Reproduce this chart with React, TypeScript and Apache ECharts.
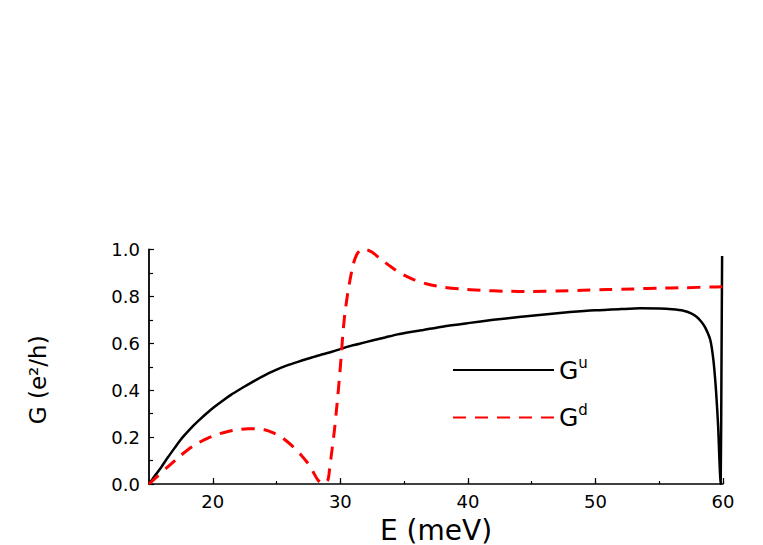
import React, { useEffect, useRef } from "react";
import * as echarts from "echarts";

// Spin-up conductance G^u (black solid)
const energyUp = [
  15.0, 15.5, 16.0, 16.5, 17.0, 17.5, 18.0, 18.5, 19.1, 19.6, 20.14, 20.8, 21.45, 22.1,
  22.75, 23.4, 24.06, 24.7, 25.37, 26.0, 26.67, 27.3, 27.98, 28.6, 29.28, 30.0, 30.6, 31.5,
  32.5, 33.5, 34.5, 35.5, 36.5, 38.0, 40.0, 42.0, 44.0, 46.0, 48.0, 50.0, 52.0, 53.5,
  55.0, 56.0, 56.9, 57.5, 57.9, 58.3, 58.6, 59.0, 59.25, 59.45, 59.62, 59.72, 59.78, 59.82,
  59.88, 59.93,
];
const condUp = [
  0.0, 0.038, 0.075, 0.115, 0.153, 0.19, 0.221, 0.25, 0.281, 0.305, 0.329, 0.356, 0.381, 0.403,
  0.424, 0.444, 0.463, 0.48, 0.496, 0.509, 0.521, 0.532, 0.543, 0.553, 0.563, 0.575, 0.586, 0.598,
  0.612, 0.625, 0.638, 0.648, 0.657, 0.671, 0.686, 0.7, 0.712, 0.723, 0.733, 0.741, 0.746, 0.749,
  0.748, 0.745, 0.739, 0.728, 0.714, 0.692, 0.668, 0.615, 0.527, 0.4, 0.245, 0.1, 0.03, 0.0,
  0.5, 0.972,
];

// Spin-down conductance G^d (red dashed)
const energyDown = [
  15.0, 15.7, 16.49, 17.3, 18.05, 18.8, 19.62, 20.4, 21.19, 22.0, 22.75, 23.4, 24.06, 24.7,
  25.37, 25.9, 26.41, 26.95, 27.45, 27.85, 28.24, 28.63, 29.02, 29.15, 29.28, 29.41, 29.54, 29.67,
  29.8, 29.94, 30.07, 30.2, 30.36, 30.62, 31.0, 31.3, 31.6, 32.0, 32.5, 33.1, 34.0, 34.7,
  35.7, 36.8, 38.0, 39.4, 41.0, 43.0, 45.0, 47.0, 49.0, 51.0, 53.0, 55.0, 57.0, 59.0, 60.0,
];
const condDown = [
  0.0, 0.035, 0.074, 0.113, 0.146, 0.173, 0.196, 0.212, 0.224, 0.232, 0.236, 0.235, 0.231, 0.219,
  0.2, 0.178, 0.153, 0.122, 0.089, 0.053, 0.017, 0.0, 0.017, 0.06, 0.117, 0.172, 0.231, 0.3,
  0.374, 0.46, 0.546, 0.64, 0.728, 0.827, 0.935, 0.98, 0.998, 1.0, 0.988, 0.962, 0.925, 0.899,
  0.873, 0.853, 0.84, 0.832, 0.826, 0.822, 0.821, 0.823, 0.826, 0.829, 0.832, 0.835, 0.837, 0.84, 0.841,
];

const xMajorTicks = [20, 30, 40, 50, 60];
const seriesNames = ["Gu", "Gd"];
const seriesSup: Record<string, string> = { Gu: "u", Gd: "d" };

export default function App() {
  const ref = useRef<HTMLDivElement>(null);
  useEffect(() => {
    document.body.style.margin = "0";
    if (!ref.current) return;
    const chart = echarts.init(ref.current, undefined, { renderer: "svg" });
    const font = "DejaVu Sans";
    chart.setOption({
      animation: false,
      backgroundColor: "#ffffff",
      grid: { left: 149, right: 40, top: 249.5, bottom: 61, containLabel: false },
      legend: {
        orient: "vertical",
        left: 447,
        top: 350,
        itemWidth: 101,
        itemHeight: 14,
        itemGap: 20,
        data: seriesNames,
        itemStyle: { opacity: 0 },
        formatter: (name: string) => `{g|G}{s|${seriesSup[name]}}`,
        textStyle: {
          color: "#000",
          rich: {
            g: { fontSize: 25, fontFamily: font, color: "#000", lineHeight: 30 },
            s: { fontSize: 15, fontFamily: font, color: "#000", lineHeight: 16, verticalAlign: "top" },
          },
        },
      },
      xAxis: [
        {
          type: "value",
          min: 15,
          max: 60,
          position: "bottom",
          axisLine: { show: true, onZero: false, lineStyle: { color: "#000", width: 1.5 } },
          axisTick: {
            show: true,
            inside: true,
            length: 6,
            customValues: xMajorTicks,
            lineStyle: { color: "#000", width: 1.2 },
          },
          axisLabel: {
            customValues: xMajorTicks,
            color: "#000",
            fontSize: 18,
            fontFamily: font,
            margin: 8,
          },
          splitLine: { show: false },
          name: "E (meV)",
          nameLocation: "middle",
          nameGap: 32,
          nameTextStyle: { color: "#000", fontSize: 28, fontFamily: font },
        },
        {
          type: "value",
          min: 15,
          max: 60,
          interval: 5,
          position: "bottom",
          axisLine: { show: false },
          axisTick: { show: true, inside: true, length: 3, lineStyle: { color: "#000", width: 1.2 } },
          axisLabel: { show: false },
          splitLine: { show: false },
        },
      ],
      yAxis: {
        type: "value",
        min: 0,
        max: 1,
        interval: 0.2,
        axisLine: { show: true, onZero: false, lineStyle: { color: "#000", width: 1.8 } },
        axisTick: { show: true, inside: true, length: 5, lineStyle: { color: "#000", width: 1.2 } },
        minorTick: { show: true, splitNumber: 2, length: 4, lineStyle: { color: "#000", width: 1.2 } },
        axisLabel: {
          color: "#000",
          fontSize: 18,
          fontFamily: font,
          margin: 9,
          formatter: (v: number) => v.toFixed(1),
        },
        splitLine: { show: false },
        minorSplitLine: { show: false },
        name: "G (e²/h)",
        nameLocation: "middle",
        nameGap: 100,
        nameRotate: 90,
        nameTextStyle: { color: "#000", fontSize: 23, fontFamily: font, padding: [0, 26, 0, 0] },
      },
      series: [
        {
          name: seriesNames[0],
          type: "line",
          xAxisIndex: 0,
          symbol: "none",
          smooth: 0.25,
          data: energyUp.map((e, i) => [e, condUp[i]]),
          lineStyle: { color: "#000", width: 2.5, type: "solid" },
          itemStyle: { color: "#000" },
        },
        {
          name: seriesNames[1],
          type: "line",
          xAxisIndex: 0,
          symbol: "none",
          smooth: 0.25,
          data: energyDown.map((e, i) => [e, condDown[i]]),
          lineStyle: { color: "#ff0000", width: 3, type: [13, 9] },
          itemStyle: { color: "#ff0000" },
        },
      ],
    });
    return () => chart.dispose();
  }, []);
  return <div ref={ref} style={{ width: 763, height: 545 }} />;
}
